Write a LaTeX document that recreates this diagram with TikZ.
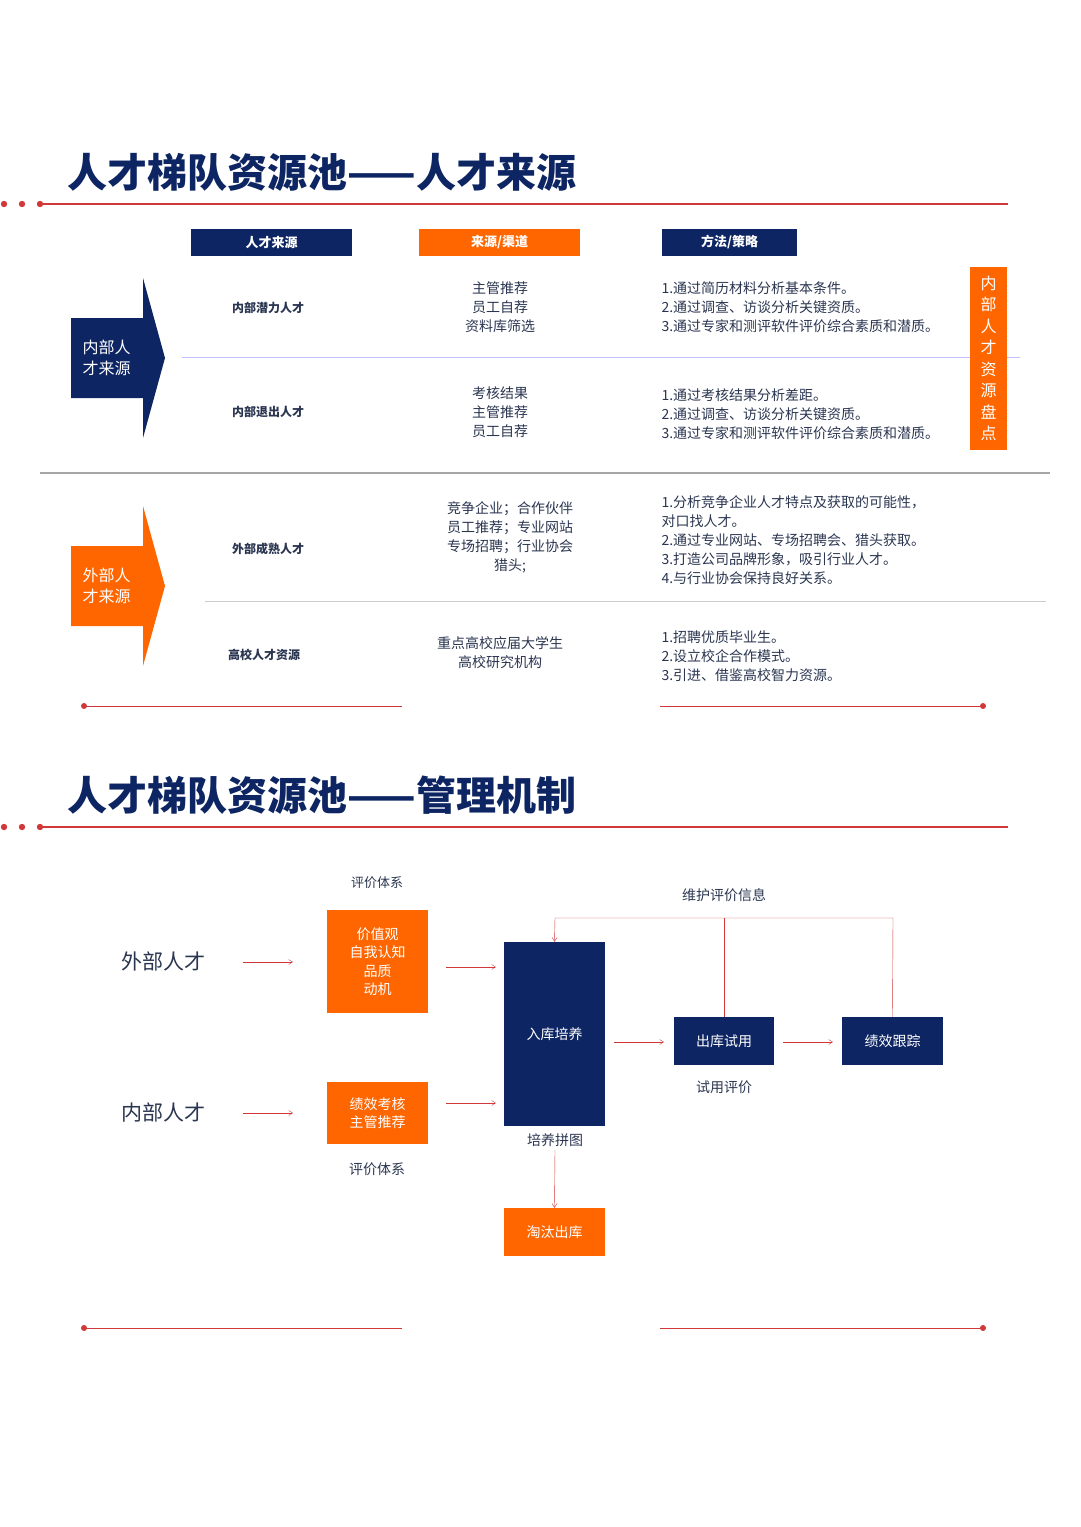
\documentclass[tikz,border=0pt]{standalone}
\usepackage{fontspec}
\setmainfont{Noto Sans CJK SC}
\definecolor{navy}{HTML}{0D2562}
\definecolor{org}{HTML}{FF6600}
\definecolor{rl}{HTML}{D0383A}
\definecolor{txt}{HTML}{2A3550}
\tikzset{
 hdr/.style={minimum width=161pt,minimum height=27pt,inner sep=0,text=white,font=\fontsize{13}{13}\selectfont\bfseries},
 lbl/.style={text=txt,font=\fontsize{12}{12}\selectfont\bfseries},
 c2/.style={text=txt,align=center,font=\fontsize{14}{19}\selectfont},
 c3/.style={text=txt,align=left,anchor=north west,font=\fontsize{14}{19}\selectfont},
 fbox/.style={inner sep=0,text=white,align=center,font=\fontsize{14}{18.5}\selectfont},
 flow/.style={rl,thin,-{Straight Barb[length=4pt,width=5pt]}},
 sm/.style={text=txt,font=\fontsize{14}{14}\selectfont},
 big/.style={text=txt,font=\fontsize{21}{21}\selectfont},
 ttl/.style={text=navy,anchor=west,font=\fontsize{40}{40}\selectfont\bfseries},
}
\usetikzlibrary{arrows.meta}
\begin{document}
\begin{tikzpicture}[x=1pt,y=-1pt]
\useasboundingbox (0,0) rectangle (1080,1527);
% ---- section 1
\node[ttl] (t1) at (64,172) {人才梯队资源池——人才来源};
\draw[rl,line width=1.3pt] (40,204) -- (1008,204);
\foreach \x in {4,22,40} \fill[rl] (\x,204) circle (3.2);
\node[hdr,fill=navy] (h1) at (271.5,242.5) {人才来源};
\node[hdr,fill=org] (h2) at (499.5,242.5) {来源/渠道};
\node[hdr,fill=navy,minimum width=135pt] (h3) at (729.5,242.5) {方法/策略};
% arrows
\fill[navy] (71,318) -- (143,318) -- (143,278) -- (165,358) -- (143,438) -- (143,398) -- (71,398) -- cycle;
\node[text=white,align=left,anchor=west,font=\fontsize{16}{21}\selectfont] (a1) at (79,358) {内部人\\才来源};
\fill[org] (71,546) -- (143,546) -- (143,506) -- (165,586) -- (143,666) -- (143,626) -- (71,626) -- cycle;
\node[text=white,align=left,anchor=west,font=\fontsize{16}{21}\selectfont] (a2) at (79,586) {外部人\\才来源};
\draw[color=blue!25,line width=1pt] (182,357) -- (1020,357);
\draw[color=gray!70,line width=2pt] (40,473) -- (1050,473);
\draw[color=gray!40,line width=1pt] (205,601) -- (1046,601);
\node[lbl] (r1) at (268,308) {内部潜力人才};
\node[lbl] (r2) at (268,412) {内部退出人才};
\node[lbl] (r3) at (268,549) {外部成熟人才};
\node[lbl] (r4) at (264,655) {高校人才资源};
\node[c2] (s1) at (500,307) {主管推荐\\员工自荐\\资料库筛选};
\node[c2] (s2) at (500,412) {考核结果\\主管推荐\\员工自荐};
\node[c2] (s3) at (510,537) {竞争企业；合作伙伴\\员工推荐；专业网站\\专场招聘；行业协会\\猎头;};
\node[c2] (s4) at (500,653) {重点高校应届大学生\\高校研究机构};
\node[c3] (m1) at (658,278) {1.通过简历材料分析基本条件。\\2.通过调查、访谈分析关键资质。\\3.通过专家和测评软件评价综合素质和潜质。};
\node[c3] (m2) at (658,385) {1.通过考核结果分析差距。\\2.通过调查、访谈分析关键资质。\\3.通过专家和测评软件评价综合素质和潜质。};
\node[c3] (m3) at (658,492) {1.分析竞争企业人才特点及获取的可能性，\\对口找人才。\\2.通过专业网站、专场招聘会、猎头获取。\\3.打造公司品牌形象，吸引行业人才。\\4.与行业协会保持良好关系。};
\node[c3] (m4) at (658,627) {1.招聘优质毕业生。\\2.设立校企合作模式。\\3.引进、借鉴高校智力资源。};
\node[fill=org,text=white,minimum width=37pt,minimum height=183pt,inner sep=0,align=center,font=\fontsize{16}{21.5}\selectfont] (v) at (988.5,358.5) {内\\部\\人\\才\\资\\源\\盘\\点};
\draw[rl,thin] (84,706) -- (402,706); \fill[rl] (84,706) circle (3);
\draw[rl,thin] (660,706) -- (983,706); \fill[rl] (983,706) circle (3);
% ---- section 2
\node[ttl] (t2) at (64,795) {人才梯队资源池——管理机制};
\draw[rl,line width=1.3pt] (40,827) -- (1008,827);
\foreach \x in {4,22,40} \fill[rl] (\x,827) circle (3.2);
\node[sm,font=\fontsize{13}{13}\selectfont] (e1) at (377,883) {评价体系};
\node[big] (w) at (163,961) {外部人才};
\node[big] (n) at (163,1112) {内部人才};
\node[fbox,fill=org,minimum width=101pt,minimum height=103pt] (o1) at (377.5,961.5) {价值观\\自我认知\\品质\\动机};
\node[fbox,fill=org,minimum width=101pt,minimum height=62pt] (o2) at (377.5,1113) {绩效考核\\主管推荐};
\node[sm] (e2) at (377,1169) {评价体系};
\node[fbox,fill=navy,minimum width=101pt,minimum height=184pt] (rk) at (554.5,1034) {入库培养};
\node[sm] (pt) at (555,1140) {培养拼图};
\node[fbox,fill=org,minimum width=101pt,minimum height=48pt] (tt) at (554.5,1232) {淘汰出库};
\node[fbox,fill=navy,minimum width=100pt,minimum height=48pt] (ck) at (724,1041) {出库试用};
\node[fbox,fill=navy,minimum width=101pt,minimum height=48pt] (jx) at (892.5,1041) {绩效跟踪};
\node[sm] (sy) at (724,1087) {试用评价};
\node[sm] (wh) at (724,895) {维护评价信息};
\coordinate (wa) at (243,962); \coordinate (wb) at (293,962);
\coordinate (na) at (243,1113); \coordinate (nb) at (293,1113);
\draw[flow] (wa) -- (wb);
\draw[flow] (na) -- (nb);
\draw[flow] (446,967) -- (496,967);
\draw[flow] (446,1103) -- (496,1103);
\draw[flow] (614,1042) -- (664,1042);
\draw[flow] (783,1042) -- (833,1042);
\draw[flow] (555,1150) -- (tt.north);
\draw[rl,thin] (ck.north) -- (724,918);
\draw[flow] (jx.north) -- (893,918) -- (555,918) -- (rk.north);
\draw[rl,thin] (84,1328) -- (402,1328); \fill[rl] (84,1328) circle (3);
\draw[rl,thin] (660,1328) -- (983,1328); \fill[rl] (983,1328) circle (3);
\end{tikzpicture}
\end{document}
